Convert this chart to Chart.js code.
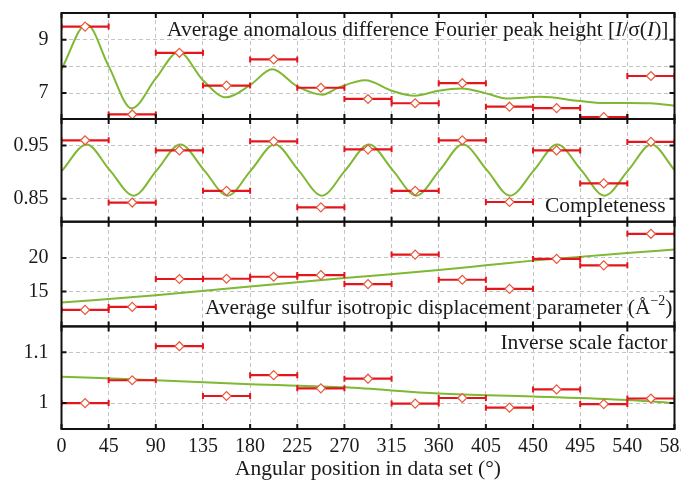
<!DOCTYPE html>
<html>
<head>
<meta charset="utf-8">
<script src="https://cdn.jsdelivr.net/npm/chart.js@4"></script>
<style>
  html, body { margin: 0; padding: 0; background: #fff; }
</style>
</head>
<body>
<canvas id="chart" width="681" height="487"></canvas>
<script>
// bin edges of the angular position (deg), also used as x tick labels
const binEdges = [0, 45, 90, 135, 180, 225, 270, 315, 360, 405, 450, 495, 540, 585];

// binned values (one per 45 deg bin)
const peakHeight   = [9.49, 6.2, 8.51, 7.28, 8.26, 7.2, 6.78, 6.62, 7.37, 6.49, 6.44, 6.1, 7.64];
const completeness = [0.960, 0.843, 0.941, 0.865, 0.958, 0.834, 0.943, 0.865, 0.960, 0.844, 0.941, 0.879, 0.957];
const sulfurB      = [12.26, 12.7, 16.86, 16.9, 17.2, 17.45, 16.1, 20.5, 16.75, 15.4, 19.85, 18.9, 23.6];
const scaleFactor  = [1.0, 1.045, 1.112, 1.014, 1.055, 1.029, 1.048, 0.999, 1.010, 0.991, 1.027, 0.998, 1.009];

// smooth fitted curves
const peakFitX = [0, 24, 45, 67, 90, 112, 135, 157, 180, 201, 225, 249, 264, 290, 315, 337, 360, 382, 405, 425, 457, 495, 517, 540, 562, 585];
const peakFitY = [7.89, 9.58, 8.01, 6.43, 7.55, 8.54, 7.48, 6.84, 7.3, 7.89, 7.25, 6.94, 7.2, 7.48, 7.09, 6.9, 7.09, 7.17, 6.99, 6.8, 6.86, 6.7, 6.63, 6.63, 6.62, 6.53];

const complFitX = [0, 24, 46, 69, 91, 113.5, 136, 158.5, 181, 203.5, 226, 248.5, 271, 293.5, 316, 338.5, 361, 383, 406, 428, 451, 473, 496, 518, 541, 563, 585];
const complFitY = [0.902, 0.952, 0.904, 0.856, 0.904, 0.952, 0.904, 0.856, 0.904, 0.952, 0.904, 0.856, 0.904, 0.952, 0.904, 0.856, 0.904, 0.952, 0.904, 0.856, 0.904, 0.952, 0.904, 0.856, 0.904, 0.952, 0.904];

const sulfurFitX = [0, 90, 180, 270, 360, 405, 450, 540, 585];
const sulfurFitY = [13.35, 14.45, 15.75, 17.0, 18.2, 18.9, 19.6, 20.75, 21.25];

const scaleFitX = [0, 90, 180, 270, 360, 450, 540, 585];
const scaleFitY = [1.052, 1.045, 1.037, 1.031, 1.019, 1.013, 1.006, 1.0];

// y ticks per panel, and which of them carry a label
const yTicks1 = [7, 8, 9],      yLabels1 = [7, 9];
const yTicks2 = [0.85, 0.95],   yLabels2 = [0.85, 0.95];
const yTicks3 = [15, 20],       yLabels3 = [15, 20];
const yTicks4 = [1, 1.1],       yLabels4 = [1, 1.1];

const serif = "'Liberation Serif', 'Times New Roman', serif";
const textColor = '#1a1a1a';
const green = '#7fb832';
const barRed = '#e3161d';
const diamondRed = '#e8573c';
const gridColor = '#c4c4c4';

function barPoints(vals) {
  const pts = [];
  vals.forEach((v, i) => {
    pts.push({x: binEdges[i], y: v}, {x: binEdges[i + 1], y: v}, {x: binEdges[i + 1], y: null});
  });
  return pts;
}
function centerPoints(vals) {
  return vals.map((v, i) => ({x: (binEdges[i] + binEdges[i + 1]) / 2, y: v}));
}
function fitPoints(xs, ys) {
  return xs.map((x, i) => ({x: x, y: ys[i]}));
}

function panelSets(axis, vals, fx, fy) {
  return {
    diamonds: {
      data: centerPoints(vals), yAxisID: axis, showLine: false,
      pointStyle: 'rectRot', pointRadius: 4.5, pointBorderWidth: 1.2,
      pointBorderColor: diamondRed, pointBackgroundColor: '#fff'
    },
    bars: {
      data: barPoints(vals), yAxisID: axis, spanGaps: false,
      borderColor: barRed, borderWidth: 2.2,
      pointStyle: 'line', rotation: 90, pointRadius: 3, pointBorderWidth: 2,
      pointBorderColor: barRed
    },
    curve: {
      data: fitPoints(fx, fy), yAxisID: axis,
      borderColor: green, borderWidth: 2, pointRadius: 0,
      cubicInterpolationMode: 'monotone'
    }
  };
}

const p1 = panelSets('y1', peakHeight, peakFitX, peakFitY);
const p2 = panelSets('y2', completeness, complFitX, complFitY);
const p3 = panelSets('y3', sulfurB, sulfurFitX, sulfurFitY);
const p4 = panelSets('y4', scaleFactor, scaleFitX, scaleFitY);
const panels = [p1, p2, p3, p4];

const datasets = [].concat(
  panels.map(p => p.diamonds),
  panels.map(p => p.bars),
  panels.map(p => p.curve)
);

function yAxis(min, max, ticks, labels, stackWeight, weight) {
  return {
    type: 'linear', position: 'left', stack: 'panels',
    stackWeight: stackWeight, weight: weight,
    min: min, max: max,
    afterBuildTicks: s => { s.ticks = ticks.map(v => ({value: v})); },
    afterFit: s => { s.width = 61.5; s.paddingTop = 0; s.paddingBottom = 0; },
    ticks: {
      padding: 13, color: textColor, font: {family: serif, size: 20},
      callback: v => labels.includes(v) ? String(v) : ''
    },
    grid: {color: gridColor, drawTicks: false, lineWidth: 1},
    border: {display: false, dash: [4, 3]}
  };
}

// panel frames and inward tick marks
const framePlugin = {
  id: 'frames',
  afterDatasetsDraw(chart) {
    const {ctx, chartArea: a, scales} = chart;
    const xs = scales.x;
    ctx.save();
    ctx.strokeStyle = '#111';
    ctx.lineWidth = 2;
    ['y1', 'y2', 'y3', 'y4'].forEach(id => {
      const s = scales[id];
      ctx.strokeRect(a.left, s.top, a.right - a.left, s.bottom - s.top);
      ctx.beginPath();
      xs.ticks.forEach(t => {
        const px = xs.getPixelForValue(t.value);
        ctx.moveTo(px, s.top); ctx.lineTo(px, s.top + 5);
        ctx.moveTo(px, s.bottom); ctx.lineTo(px, s.bottom - 5);
      });
      s.ticks.forEach(t => {
        const py = s.getPixelForValue(t.value);
        ctx.moveTo(a.left, py); ctx.lineTo(a.left + 5, py);
        ctx.moveTo(a.right, py); ctx.lineTo(a.right - 5, py);
      });
      ctx.stroke();
    });
    ctx.restore();
  }
};

// right-aligned text made of styled runs
function drawRuns(ctx, runs, xRight, yMid) {
  const fontOf = r => (r.italic ? 'italic ' : '') + (r.size || 21.5) + 'px ' + serif;
  let total = 0;
  runs.forEach(r => { ctx.font = fontOf(r); total += ctx.measureText(r.t).width; });
  let x = xRight - total;
  ctx.textBaseline = 'middle';
  ctx.textAlign = 'left';
  runs.forEach(r => {
    ctx.font = fontOf(r);
    ctx.fillText(r.t, x, yMid + (r.dy || 0));
    x += ctx.measureText(r.t).width;
  });
}

const labelPlugin = {
  id: 'panelLabels',
  afterDraw(chart) {
    const {ctx, chartArea: a, scales} = chart;
    ctx.save();
    ctx.fillStyle = textColor;
    drawRuns(ctx, [
      {t: 'Average anomalous difference Fourier peak height ['},
      {t: 'I', italic: true}, {t: '/σ('}, {t: 'I', italic: true}, {t: ')]'}
    ], a.right - 6, scales.y1.top + 17);
    drawRuns(ctx, [{t: 'Completeness'}], a.right - 9, scales.y2.bottom - 15);
    drawRuns(ctx, [
      {t: 'Average sulfur isotropic displacement parameter (Å'},
      {t: '−2', size: 14, dy: -7}, {t: ')'}
    ], a.right - 2, scales.y3.bottom - 18);
    drawRuns(ctx, [{t: 'Inverse scale factor'}], a.right - 7, scales.y4.top + 17);
    ctx.restore();
  }
};

new Chart(document.getElementById('chart').getContext('2d'), {
  type: 'line',
  data: {datasets: datasets},
  options: {
    responsive: false,
    animation: false,
    devicePixelRatio: 1,
    layout: {padding: {left: 0, top: 13, right: 6.5, bottom: 0}},
    plugins: {legend: {display: false}, tooltip: {enabled: false}},
    scales: {
      x: {
        type: 'linear', min: 0, max: 585,
        afterBuildTicks: s => { s.ticks = binEdges.map(v => ({value: v})); },
        afterFit: s => { s.height = 58; s.paddingLeft = 0; s.paddingRight = 0; },
        ticks: {padding: 6, autoSkip: false, maxRotation: 0, color: textColor, font: {family: serif, size: 20}},
        grid: {color: gridColor, drawTicks: false, lineWidth: 1},
        border: {display: false, dash: [4, 3]},
        title: {
          display: true, text: 'Angular position in data set (°)',
          color: textColor, font: {family: serif, size: 21.5}, padding: {top: 0, bottom: 5}
        }
      },
      y4: yAxis(0.949, 1.151, yTicks4, yLabels4, 102.6, 1),
      y3: yAxis(9.8, 25.4, yTicks3, yLabels3, 104.7, 2),
      y2: yAxis(0.807, 1.0, yTicks2, yLabels2, 102.7, 3),
      y1: yAxis(6.03, 10, yTicks1, yLabels1, 106, 4)
    }
  },
  plugins: [framePlugin, labelPlugin]
});
</script>
</body>
</html>
